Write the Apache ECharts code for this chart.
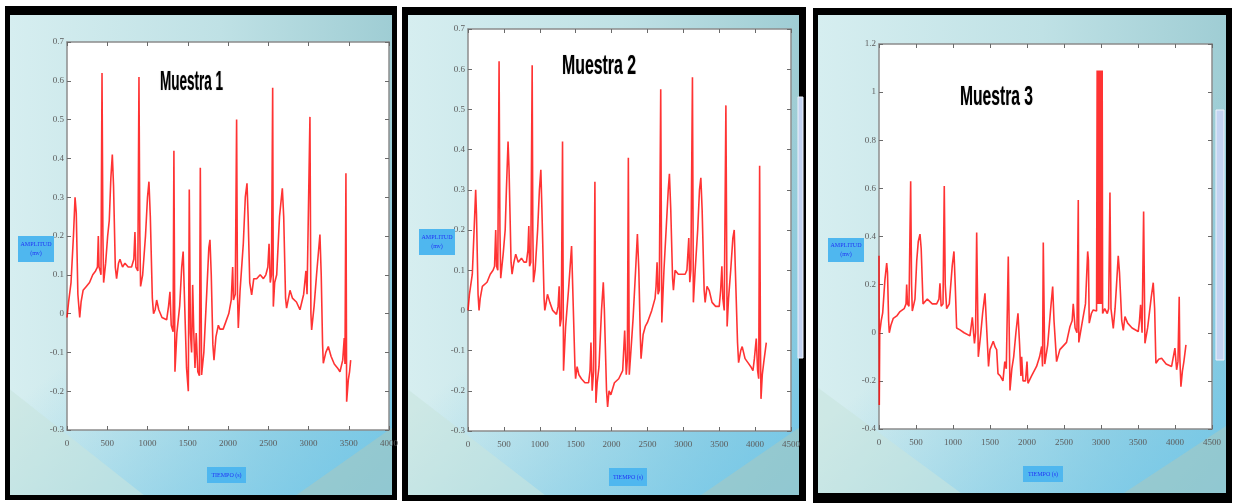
<!DOCTYPE html>
<html>
<head>
<meta charset="utf-8">
<script src="https://cdn.jsdelivr.net/npm/echarts@6/dist/echarts.min.js"></script>
<style>
  html, body { margin: 0; padding: 0; background: #fff; }
  #grafica { width: 1235px; height: 503px; }
</style>
</head>
<body>
<div id="grafica"></div>
<script>
const muestra1 = [
  [0,-0.01],[20,0.03],[50,0.08],[80,0.2],[100,0.3],[115,0.26],[135,0.05],[158,-0.01],[175,0.03],[200,0.06],
  [240,0.07],[280,0.08],[320,0.1],[355,0.11],[378,0.12],[389,0.2],[398,0.12],[412,0.11],[422,0.1],[435,0.62],
  [446,0.2],[455,0.08],[480,0.13],[505,0.2],[525,0.24],[545,0.35],[563,0.41],[578,0.33],[600,0.12],[616,0.09],
  [640,0.13],[658,0.14],[690,0.12],[720,0.13],[760,0.12],[802,0.12],[830,0.14],[844,0.21],[856,0.12],[880,0.11],
  [894,0.61],[905,0.2],[914,0.07],[940,0.1],[975,0.2],[1000,0.3],[1018,0.34],[1035,0.25],[1060,0.04],[1075,0.0],
  [1095,0.01],[1114,0.035],[1140,0.01],[1180,-0.01],[1238,-0.016],[1262,0.02],[1279,0.056],[1295,-0.03],[1318,-0.047],[1328,0.42],
  [1341,-0.15],[1365,-0.05],[1400,0.02],[1425,0.12],[1443,0.16],[1458,0.05],[1485,-0.14],[1507,-0.2],[1519,0.32],[1533,-0.05],
  [1548,-0.1],[1561,0.074],[1575,-0.05],[1590,-0.14],[1605,-0.05],[1625,-0.15],[1645,-0.16],[1656,0.376],[1672,-0.158],[1700,-0.1],
  [1735,0.05],[1762,0.17],[1776,0.19],[1792,0.1],[1812,-0.08],[1826,-0.12],[1850,-0.06],[1880,-0.03],[1900,-0.04],[1940,-0.04],
  [1975,-0.02],[2010,0.0],[2040,0.035],[2058,0.12],[2068,0.035],[2090,0.05],[2107,0.5],[2118,0.05],[2128,-0.037],[2150,0.06],
  [2190,0.18],[2215,0.3],[2236,0.336],[2250,0.25],[2270,0.08],[2294,0.048],[2320,0.09],[2356,0.09],[2400,0.1],[2440,0.09],
  [2470,0.1],[2495,0.12],[2510,0.18],[2525,0.08],[2540,0.1],[2555,0.582],[2563,0.018],[2580,0.08],[2605,0.1],[2640,0.25],
  [2675,0.323],[2692,0.25],[2715,0.04],[2728,0.014],[2770,0.06],[2800,0.04],[2850,0.03],[2894,0.01],[2940,0.05],[2968,0.11],
  [2982,0.05],[3000,0.05],[3018,0.507],[3030,0.0],[3039,-0.042],[3070,0.02],[3100,0.1],[3142,0.204],[3158,0.1],[3175,-0.08],
  [3184,-0.128],[3215,-0.1],[3246,-0.085],[3280,-0.11],[3320,-0.13],[3360,-0.14],[3391,-0.15],[3425,-0.12],[3444,-0.063],[3453,-0.13],
  [3465,0.362],[3474,-0.227],[3495,-0.17],[3510,-0.15],[3524,-0.12]
];
const muestra2 = [
  [0,0.0],[20,0.04],[60,0.09],[85,0.2],[107,0.3],[118,0.24],[140,0.04],[154,0.0],[170,0.03],[200,0.06],
  [265,0.07],[310,0.09],[349,0.1],[370,0.11],[386,0.2],[398,0.11],[415,0.1],[433,0.62],[445,0.2],[456,0.08],
  [490,0.14],[518,0.2],[535,0.3],[558,0.42],[572,0.35],[600,0.12],[614,0.09],[640,0.12],[665,0.14],[700,0.12],
  [745,0.13],[780,0.12],[814,0.12],[835,0.15],[847,0.21],[858,0.11],[875,0.12],[894,0.61],[903,0.2],[912,0.07],
  [935,0.1],[970,0.2],[995,0.3],[1015,0.35],[1030,0.25],[1060,0.03],[1070,0.0],[1090,0.02],[1107,0.04],[1140,0.02],
  [1180,0.0],[1233,-0.01],[1255,0.01],[1270,0.06],[1282,-0.04],[1300,-0.02],[1317,0.42],[1331,-0.15],[1360,-0.04],[1400,0.05],
  [1443,0.16],[1460,0.05],[1490,-0.14],[1499,-0.17],[1520,-0.14],[1545,-0.16],[1580,-0.17],[1629,-0.18],[1680,-0.18],[1700,-0.15],
  [1713,-0.08],[1730,-0.2],[1750,-0.15],[1768,0.32],[1782,-0.23],[1800,-0.18],[1825,-0.14],[1860,0.0],[1885,0.07],[1900,0.0],
  [1930,-0.2],[1945,-0.24],[1965,-0.2],[1990,-0.21],[2040,-0.18],[2100,-0.17],[2155,-0.15],[2183,-0.05],[2205,-0.16],[2220,-0.12],
  [2234,0.38],[2247,-0.16],[2270,-0.1],[2300,-0.02],[2335,0.1],[2360,0.19],[2380,0.1],[2400,-0.06],[2411,-0.12],[2440,-0.06],
  [2470,-0.04],[2500,-0.03],[2560,0.0],[2606,0.03],[2620,0.06],[2634,0.12],[2648,0.04],[2665,0.05],[2685,0.55],[2700,-0.03],
  [2730,0.1],[2760,0.2],[2790,0.3],[2806,0.34],[2825,0.25],[2850,0.08],[2862,0.05],[2885,0.1],[2930,0.09],[2980,0.09],
  [3025,0.09],[3050,0.1],[3076,0.18],[3090,0.07],[3105,0.1],[3127,0.58],[3140,0.02],[3165,0.1],[3200,0.2],[3225,0.3],
  [3244,0.33],[3262,0.25],[3290,0.05],[3304,0.02],[3330,0.06],[3360,0.05],[3400,0.02],[3450,0.01],[3500,0.01],[3520,0.05],
  [3537,0.11],[3550,0.03],[3570,0.0],[3593,0.51],[3610,-0.04],[3630,0.03],[3660,0.1],[3690,0.18],[3709,0.2],[3725,0.1],
  [3755,-0.08],[3770,-0.13],[3800,-0.1],[3820,-0.09],[3860,-0.12],[3900,-0.13],[3940,-0.14],[3970,-0.15],[3990,-0.12],[4016,-0.07],
  [4035,-0.15],[4050,-0.17],[4063,0.36],[4075,-0.1],[4082,-0.22],[4100,-0.16],[4120,-0.13],[4156,-0.08]
];
const muestra3 = [
  [0,0.32],[4,-0.3],[10,0.0],[30,0.05],[50,0.083],[80,0.22],[104,0.29],[115,0.25],[130,0.05],[139,0.0],
  [160,0.03],[193,0.06],[240,0.07],[284,0.088],[340,0.1],[365,0.12],[374,0.2],[385,0.12],[405,0.11],[428,0.63],
  [440,0.2],[450,0.09],[486,0.14],[510,0.3],[531,0.38],[554,0.41],[570,0.35],[595,0.12],[621,0.116],[653,0.14],
  [720,0.12],[779,0.12],[810,0.14],[824,0.206],[840,0.11],[865,0.12],[882,0.61],[895,0.2],[914,0.1],[950,0.12],
  [990,0.28],[1013,0.338],[1030,0.2],[1049,0.02],[1094,0.012],[1150,0.0],[1229,-0.013],[1261,0.064],[1290,-0.044],[1305,0.0],
  [1320,0.417],[1342,-0.1],[1373,-0.01],[1400,0.08],[1432,0.164],[1450,0.05],[1480,-0.14],[1500,-0.07],[1544,-0.035],[1570,-0.06],
  [1590,-0.07],[1608,-0.17],[1640,-0.18],[1675,-0.2],[1700,-0.12],[1720,-0.15],[1747,0.317],[1770,-0.24],[1795,-0.15],[1820,-0.1],
  [1850,0.0],[1878,0.081],[1900,-0.05],[1918,-0.18],[1928,-0.1],[1946,-0.2],[1980,-0.2],[2000,-0.12],[2013,-0.21],[2060,-0.18],
  [2129,-0.14],[2170,-0.1],[2198,-0.057],[2210,-0.14],[2220,0.375],[2240,-0.13],[2280,-0.05],[2320,0.1],[2347,0.192],[2365,0.05],
  [2400,-0.12],[2444,-0.07],[2534,-0.04],[2580,0.025],[2610,0.05],[2625,0.12],[2650,0.02],[2675,0.0],[2693,0.552],[2700,-0.04],
  [2750,0.05],[2790,0.12],[2820,0.338],[2830,0.3],[2841,0.04],[2870,0.08],[2895,0.095],[2940,0.09],[2948,1.09],[2955,0.12],
  [2962,1.09],[2969,0.12],[2976,1.09],[2983,0.12],[2990,1.09],[2997,0.12],[3004,1.09],[3011,0.12],[3016,1.09],[3022,0.08],
  [3050,0.1],[3085,0.08],[3103,0.1],[3121,0.583],[3135,0.1],[3166,0.018],[3190,0.1],[3210,0.2],[3233,0.32],[3250,0.25],
  [3280,0.05],[3301,0.01],[3324,0.067],[3360,0.04],[3420,0.02],[3503,0.005],[3520,0.05],[3535,0.116],[3555,0.0],[3576,0.504],
  [3594,-0.044],[3630,0.02],[3680,0.15],[3706,0.208],[3725,0.1],[3742,-0.127],[3780,-0.11],[3819,-0.106],[3880,-0.13],[3954,-0.14],
  [3999,-0.064],[4022,-0.154],[4040,-0.12],[4057,0.15],[4065,-0.1],[4080,-0.224],[4100,-0.16],[4120,-0.12],[4148,-0.05]
];
const series = [muestra1, muestra2, muestra3];
const titulos = ["Muestra 1", "Muestra 2", "Muestra 3"];
const ejeXMax = [4000, 4500, 4500];
const ejeYMin = [-0.3, -0.3, -0.4];
const ejeYMax = [0.7, 0.7, 1.2];
const ejeYPaso = [0.1, 0.1, 0.2];
const ejeXPaso = 500;
const textoY = ["AMPLITUD", "(mv)"];
const textoX = "TIEMPO (s)";

// posiciones de cada panel en pixeles
const paneles = [
  { marco: [5, 6, 392, 494], fondo: [10, 15, 382, 480], grid: [67, 42, 322, 388],
    titulo: [160, 82, 63], amp: [18, 236, 36, 26], tiempo: [207, 467, 39, 16], barra: null },
  { marco: [402, 7, 404, 494], fondo: [408, 15, 391, 480], grid: [468, 29, 323, 402],
    titulo: [562, 66, 74], amp: [419, 229, 36, 26], tiempo: [609, 468, 38, 18], barra: [798, 97, 5, 261] },
  { marco: [813, 8, 419, 495], fondo: [818, 15, 408, 478], grid: [879, 44, 333, 385],
    titulo: [960, 97, 73], amp: [828, 238, 36, 24], tiempo: [1023, 466, 40, 16], barra: [1216, 110, 8, 250] }
];

const ctx = document.createElement("canvas").getContext("2d");
const fuenteTitulo = 'bold 28px "Liberation Sans"';
function escalaX(texto, ancho) {
  ctx.font = fuenteTitulo;
  return ancho / ctx.measureText(texto).width;
}

const colorEje = "#8c8c8c";
const colorTexto = "#5c5c5c";
const graficos = [];
const grids = [];
const ejesX = [];
const ejesY = [];
const lineas = [];

paneles.forEach((p, i) => {
  // marco negro y fondo degradado
  graficos.push({
    type: "rect", z: -10, silent: true,
    shape: { x: p.marco[0], y: p.marco[1], width: p.marco[2], height: p.marco[3] },
    style: { fill: "#000" }
  });
  graficos.push({
    type: "rect", z: -9, silent: true,
    shape: { x: p.fondo[0], y: p.fondo[1], width: p.fondo[2], height: p.fondo[3] },
    style: {
      fill: new echarts.graphic.LinearGradient(0, 0, 1, 0, [
        { offset: 0, color: "#d6eef0" },
        { offset: 0.55, color: "#bfe1e5" },
        { offset: 1, color: "#9fcdd4" }
      ])
    }
  });
  graficos.push({
    type: "rect", z: -8, silent: true,
    shape: { x: p.fondo[0], y: p.fondo[1], width: p.fondo[2], height: p.fondo[3] },
    style: {
      fill: new echarts.graphic.LinearGradient(0, 0, 1, 1, [
        { offset: 0, color: "rgba(112,199,234,0)" },
        { offset: 0.5, color: "rgba(112,199,234,0)" },
        { offset: 1, color: "rgba(112,199,234,0.95)" }
      ])
    }
  });
  // facetas claras abajo
  const fx = p.fondo[0], fy = p.fondo[1], fw = p.fondo[2], fh = p.fondo[3];
  graficos.push({
    type: "polygon", z: -7, silent: true,
    shape: { points: [[fx, fy + fh * 0.78], [fx + fw * 0.35, fy + fh], [fx, fy + fh]] },
    style: { fill: "rgba(200,228,222,0.6)" }
  });
  graficos.push({
    type: "polygon", z: -7, silent: true,
    shape: { points: [[fx + fw * 0.75, fy + fh], [fx + fw, fy + fh * 0.86], [fx + fw, fy + fh]] },
    style: { fill: "rgba(170,200,190,0.55)" }
  });
  // area blanca del grafico
  graficos.push({
    type: "rect", z: -6, silent: true,
    shape: { x: p.grid[0], y: p.grid[1], width: p.grid[2], height: p.grid[3] },
    style: { fill: "#fff" }
  });
  if (p.barra) {
    graficos.push({
      type: "rect", z: -5, silent: true,
      shape: { x: p.barra[0], y: p.barra[1], width: p.barra[2], height: p.barra[3] },
      style: { fill: "#c3d3f1", stroke: "#eef3fb", lineWidth: 1 }
    });
  }
  // titulo
  graficos.push({
    type: "text", z: 50, x: p.titulo[0], y: p.titulo[1],
    scaleX: escalaX(titulos[i], p.titulo[2]),
    style: {
      text: titulos[i], font: fuenteTitulo, fill: "#000",
      verticalAlign: "middle", align: "left",
      textShadowColor: "rgba(0,0,0,0.35)", textShadowBlur: 1
    }
  });
  // caja de amplitud
  graficos.push({
    type: "rect", z: 50,
    shape: { x: p.amp[0], y: p.amp[1], width: p.amp[2], height: p.amp[3] },
    style: { fill: "#4fb7ef" }
  });
  graficos.push({
    type: "text", z: 51, x: p.amp[0] + p.amp[2] / 2, y: p.amp[1] + p.amp[3] / 2,
    style: {
      text: textoY.join("\n"), font: '6px "Liberation Sans Narrow"', fill: "#2236f5",
      align: "center", verticalAlign: "middle", lineHeight: 9
    }
  });
  // caja de tiempo
  graficos.push({
    type: "rect", z: 50,
    shape: { x: p.tiempo[0], y: p.tiempo[1], width: p.tiempo[2], height: p.tiempo[3] },
    style: { fill: "#4fb7ef" }
  });
  graficos.push({
    type: "text", z: 51, x: p.tiempo[0] + p.tiempo[2] / 2, y: p.tiempo[1] + p.tiempo[3] / 2,
    style: {
      text: textoX, font: '6px "Liberation Sans Narrow"', fill: "#2236f5",
      align: "center", verticalAlign: "middle"
    }
  });

  grids.push({ left: p.grid[0], top: p.grid[1], width: p.grid[2], height: p.grid[3], containLabel: false });

  const lineaEje = { show: true, onZero: false, lineStyle: { color: colorEje, width: 1.5 } };
  const marcas = { show: true, inside: true, length: 4, lineStyle: { color: "#6a6a6a" } };
  ["bottom", "top"].forEach((pos) => {
    ejesX.push({
      gridIndex: i, type: "value", position: pos,
      min: 0, max: ejeXMax[i], interval: ejeXPaso,
      axisLine: lineaEje, axisTick: marcas,
      axisLabel: {
        show: pos === "bottom", color: colorTexto, fontSize: 9, margin: 9,
        fontFamily: "Liberation Sans Narrow",
        formatter: (v) => String(v)
      },
      splitLine: { show: false }
    });
  });
  ["left", "right"].forEach((pos) => {
    ejesY.push({
      gridIndex: i, type: "value", position: pos,
      min: ejeYMin[i], max: ejeYMax[i], interval: ejeYPaso[i],
      axisLine: lineaEje, axisTick: marcas,
      axisLabel: {
        show: pos === "left", color: colorTexto, fontSize: 9, margin: 3,
        fontFamily: "Liberation Sans Narrow"
      },
      splitLine: { show: false }
    });
  });

  lineas.push({
    type: "line", xAxisIndex: i * 2, yAxisIndex: i * 2,
    data: series[i], showSymbol: false, smooth: false,
    lineStyle: { color: "#ff0000", width: 1.6, opacity: 0.8 },
    z: 5
  });
});

const grafica = echarts.init(document.getElementById("grafica"));
grafica.setOption({
  animation: false,
  backgroundColor: "#fff",
  graphic: { elements: graficos },
  grid: grids,
  xAxis: ejesX,
  yAxis: ejesY,
  series: lineas
});
</script>
</body>
</html>
